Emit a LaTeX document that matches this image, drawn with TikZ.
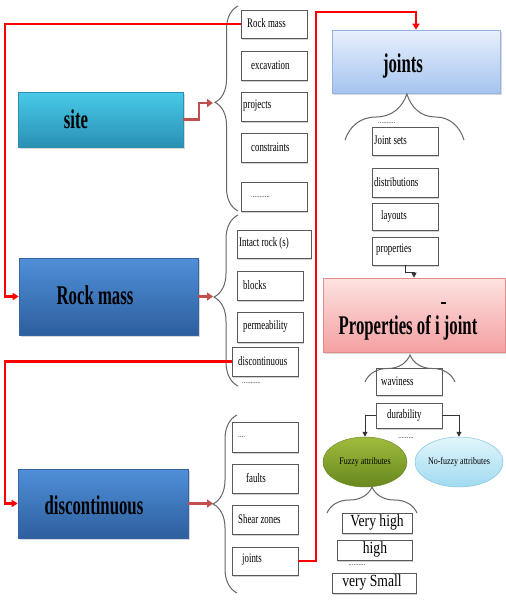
\documentclass[tikz,border=0pt]{standalone}
\usepackage{fontspec}
\setmainfont{Liberation Serif}
\newfontfamily\headf[FakeStretch=0.62]{Liberation Serif}
\newfontfamily\smallf[FakeStretch=0.68]{Liberation Serif}
\newfontfamily\midf[FakeStretch=0.8]{Liberation Serif}
\usetikzlibrary{arrows.meta,shapes.geometric,shadows,decorations.pathreplacing}
\definecolor{redline}{HTML}{FF0000}
\definecolor{brownarrow}{HTML}{C0504D}
\tikzset{
  sbox/.style={draw=black!65, line width=0.9pt, fill=white, inner sep=0,
    drop shadow={shadow xshift=1pt, shadow yshift=-1.5pt, opacity=0.35}},
  stxt/.style={inner sep=0, anchor=west, font=\smallf\fontsize{13}{14}\selectfont},
  dots/.style={inner sep=0, font=\smallf\fontsize{10}{10}\selectfont, text=black!70},
  head/.style={inner sep=0, font=\headf\bfseries\fontsize{27}{30}\selectfont},
  bigbox/.style={inner sep=0, line width=0.6pt,
    drop shadow={shadow xshift=1.5pt, shadow yshift=-2pt, opacity=0.3}},
  redconn/.style={draw=redline, line width=2.2pt, -{Triangle[length=6pt,width=7pt]}},
  brconn/.style={draw=brownarrow, line width=2.6pt, -{Triangle[length=6pt,width=8pt]}},
  blkconn/.style={draw=black!80, line width=1pt, -{Triangle[length=5pt,width=5pt]}},
  bracel/.style={draw=black!60, line width=1pt, decorate},
}
\begin{document}
\begin{tikzpicture}[x=1pt,y=-1pt]
\useasboundingbox[fill=white] (0,0) rectangle (506,600);

% ---- main boxes
\node[bigbox, top color={rgb,255:red,72;green,202;blue,232}, bottom color={rgb,255:red,42;green,144;blue,180}, draw={rgb,255:red,47;green,143;blue,176}, minimum width=165, minimum height=55] (site) at (100.5,119.5) {};
\node[head] (siteT) at (76,119) {site};

\node[bigbox, top color={rgb,255:red,80;green,143;blue,216}, bottom color={rgb,255:red,45;green,95;blue,158}, draw={rgb,255:red,55;green,100;blue,160}, minimum width=179, minimum height=77] (rockmass) at (108.5,296.5) {};
\node[head] (rockmassT) at (95,295) {Rock mass};

\node[bigbox, top color={rgb,255:red,80;green,143;blue,216}, bottom color={rgb,255:red,45;green,95;blue,158}, draw={rgb,255:red,55;green,100;blue,160}, minimum width=170, minimum height=69] (discont) at (103,503.5) {};
\node[head] (discontT) at (94,505) {discontinuous};

\node[bigbox, top color={rgb,255:red,232;green,240;blue,253}, bottom color={rgb,255:red,166;green,196;blue,240}, draw={rgb,255:red,150;green,180;blue,225}, minimum width=168, minimum height=63] (joints) at (416,61.5) {};
\node[head] (jointsT) at (403,66) {joints};

\node[bigbox, top color={rgb,255:red,253;green,226;blue,226}, bottom color={rgb,255:red,245;green,160;blue,160}, draw={rgb,255:red,225;green,140;blue,140}, minimum width=182, minimum height=74] (props) at (414,315) {};
\node[head] (propsT) at (408,328) {Properties of i joint};
\node[inner sep=0] (propsDash) at (443,303) {\rule{5pt}{1.6pt}};

% ---- ellipses
\node[ellipse, inner sep=0, minimum width=84, minimum height=50, top color={rgb,255:red,160;green,188;blue,62}, bottom color={rgb,255:red,104;green,135;blue,30}, draw={rgb,255:red,110;green,140;blue,40}, line width=0.5pt] (fuzzy) at (365,462) {};
\node[inner sep=0, font=\midf\fontsize{10}{10}\selectfont] (fuzzyT) at (365,462) {Fuzzy attributes};
\node[ellipse, inner sep=0, minimum width=88, minimum height=50, top color={rgb,255:red,226;green,246;blue,252}, bottom color={rgb,255:red,160;green,218;blue,240}, draw={rgb,255:red,130;green,196;blue,224}, line width=0.5pt] (nofuzzy) at (459,462) {};
\node[inner sep=0, font=\midf\fontsize{10}{10}\selectfont] (nofuzzyT) at (459,462) {No-fuzzy attributes};

% ---- column 1 (site)
\node[sbox, minimum width=66, minimum height=28] (c1a) at (274,24) {};
\node[stxt] (c1aT) at (247,23) {Rock mass};
\node[sbox, minimum width=66, minimum height=29] (c1b) at (274,65.5) {};
\node[stxt] (c1bT) at (251,65) {excavation};
\node[sbox, minimum width=66, minimum height=29] (c1c) at (274,106.5) {};
\node[stxt] (c1cT) at (243,106) {projects};
\node[sbox, minimum width=66, minimum height=29] (c1d) at (274,147.5) {};
\node[stxt] (c1dT) at (251,147) {constraints};
\node[sbox, minimum width=66, minimum height=29] (c1e) at (274,196.5) {};
\node[dots, anchor=west] (c1eT) at (251,197) {...........};

% ---- column 2 (rock mass)
\node[sbox, minimum width=74, minimum height=28] (c2a) at (274,244) {};
\node[stxt] (c2aT) at (239,243) {Intact rock (s)};
\node[sbox, minimum width=66, minimum height=29] (c2b) at (270,285.5) {};
\node[stxt] (c2bT) at (243,285) {blocks};
\node[sbox, minimum width=66, minimum height=30] (c2c) at (270,327) {};
\node[stxt] (c2cT) at (243,326) {permeability};
\node[sbox, minimum width=66, minimum height=29] (c2d) at (265,361.5) {};
\node[stxt] (c2dT) at (238,361) {discontinuous};
\node[dots, anchor=west] (c2eT) at (242,383) {...........};

% ---- column 3 (discontinuous)
\node[sbox, minimum width=66, minimum height=30] (c3a) at (265,437) {};
\node[dots, anchor=west] (c3aT) at (238,437) {....};
\node[sbox, minimum width=66, minimum height=29] (c3b) at (265,478.5) {};
\node[stxt] (c3bT) at (246,478) {faults};
\node[sbox, minimum width=66, minimum height=29] (c3c) at (265,519.5) {};
\node[stxt] (c3cT) at (238,519) {Shear zones};
\node[sbox, minimum width=66, minimum height=28] (c3d) at (265,561) {};
\node[stxt] (c3dT) at (242,560) {joints};

% ---- joints column
\node[dots, anchor=west] (jdots) at (378,123) {..........};
\node[sbox, minimum width=66, minimum height=28] (j1) at (405,141) {};
\node[stxt] (j1T) at (374,140) {Joint sets};
\node[sbox, minimum width=66, minimum height=29] (j2) at (405,182.5) {};
\node[stxt] (j2T) at (374,182) {distributions};
\node[sbox, minimum width=66, minimum height=27] (j3) at (405,216.5) {};
\node[stxt] (j3T) at (381,216) {layouts};
\node[sbox, minimum width=66, minimum height=28] (j4) at (405,251) {};
\node[stxt] (j4T) at (376,250) {properties};

% ---- properties column
\node[sbox, minimum width=66, minimum height=27] (p1) at (409,381.5) {};
\node[stxt] (p1T) at (381,381) {waviness};
\node[sbox, minimum width=66, minimum height=25] (p2) at (409,415.5) {};
\node[stxt] (p2T) at (387,415) {durability};
\node[dots] (pdots) at (406,438) {.........};

% ---- fuzzy values
\node[sbox, minimum width=70, minimum height=20] (v1) at (377,523) {};
\node[inner sep=0, font=\midf\fontsize{17}{17}\selectfont] (v1T) at (377,522) {Very high};
\node[sbox, minimum width=75, minimum height=20] (v2) at (374.5,550) {};
\node[inner sep=0, font=\midf\fontsize{17}{17}\selectfont] (v2T) at (375,549) {high};
\node[dots] (vdots) at (357,565) {..........};
\node[sbox, minimum width=84, minimum height=20] (v3) at (374,583) {};
\node[inner sep=0, font=\midf\fontsize{17}{17}\selectfont] (v3T) at (372,582) {very Small};

% ---- braces
\draw[bracel, decoration={brace, amplitude=23pt, aspect=0.53}] (238,211) -- (238,6);
\draw[bracel, decoration={brace, amplitude=24pt, aspect=0.52}] (238,386) -- (238,215);
\draw[bracel, decoration={brace, amplitude=24pt, aspect=0.5}] (237,593) -- (237,415);
\draw[bracel, decoration={brace, amplitude=46pt, aspect=0.52}] (345,140) -- (464,140);
\draw[bracel, decoration={brace, amplitude=27pt, aspect=0.5}] (365,382) -- (455,382);
\draw[bracel, decoration={brace, amplitude=26pt, aspect=0.5}] (327,513) -- (417,513);

% ---- helper coordinates
\coordinate (lx) at (5,0);
\coordinate (bx) at (213,0);
\coordinate (b1m) at (199,103);
\coordinate (b1) at (213,103);
\coordinate (rtop) at (316,12);
\coordinate (pk) at (0,272);

% ---- brown arrows to braces
\draw[brconn] (site.east) -| (b1m) -- (b1);
\draw[brconn] (rockmass.east) -- (rockmass.east -| bx);
\draw[brconn] (discont.east) -- (discont.east -| bx);

% ---- red connectors
\draw[redconn] (c1a.west) -- (c1a.west -| lx) |- (rockmass.west);
\draw[redconn] (c2d.west) -- (c2d.west -| lx) |- (discont.west);
\draw[redconn] (c3d.east) -| (rtop) -| (joints.north);

% ---- black arrows
\draw[blkconn] (j4.south) |- (props.north |- pk) -- (props.north);
\draw[blkconn] (p2.west) -| (fuzzy.north);
\draw[blkconn] (p2.east) -| (nofuzzy.north);
\end{tikzpicture}
\end{document}
